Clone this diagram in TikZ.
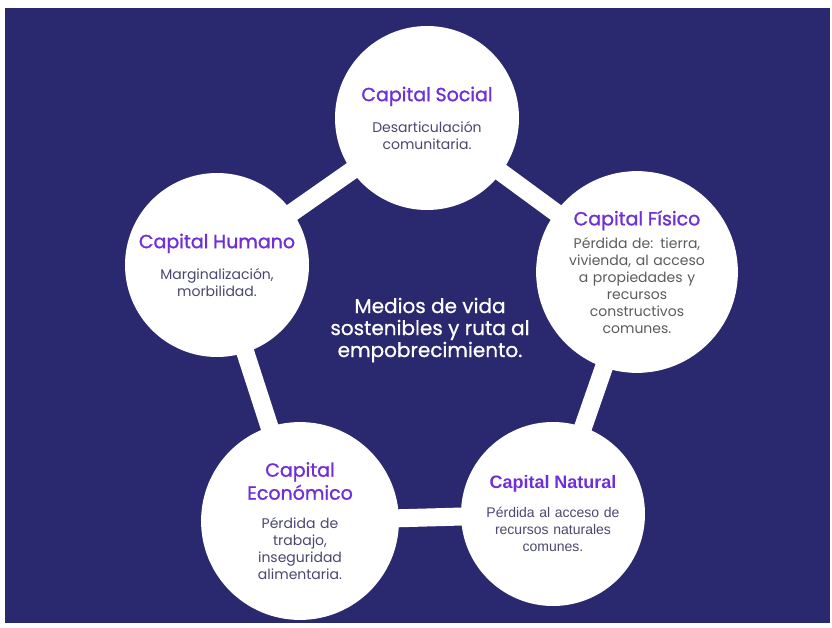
\documentclass[tikz,border=0pt]{standalone}
\usepackage{fontspec}
\setmainfont{Poppins}
\newfontfamily\arialfont{Liberation Sans}
\newfontfamily\titulofont[FakeBold=1.2]{Poppins}
\newfontfamily\centrofont[FakeBold=0.8]{Poppins}
\usetikzlibrary{positioning}

\definecolor{fondo}{HTML}{2A286E}
\definecolor{morado}{HTML}{6F2FD8}
\definecolor{textoazul}{HTML}{4A4870}
\definecolor{textogris}{HTML}{5C5C5C}

\begin{document}
\begin{tikzpicture}[
    x=1pt, y=-1pt,
    every path/.style={thick}
]
    \tikzset{
        capital/.style={circle, fill=white, minimum size=184pt, inner sep=0pt,
            outer sep=-3pt, text width=160pt, align=center, text=textoazul,
            font=\fontsize{14}{17}\selectfont},
        enlace/.style={draw=white, line width=18pt},
        centro/.style={text=white, align=center,
            font=\centrofont\fontsize{20}{22}\selectfont}
    }

    % Fondo
    \fill[white] (0,0) rectangle (832,628);
    \fill[fondo] (5,8) rectangle (830,623);

    % Capitales
    \node[capital] (social) at (427,118) {%
        {\titulofont\color{morado}\fontsize{19}{22}\selectfont Capital Social\par}\vspace{14pt}
        Desarticulación\\comunitaria.};
    \node[capital] (fisico) at (637,272) {%
        {\titulofont\color{morado}\fontsize{19}{22}\selectfont Capital Físico\par}\vspace{6pt}
        {\color{textogris}Pérdida de: tierra,\\vivienda, al acceso\\a propiedades y\\recursos\\constructivos\\comunes.\par}};
    \node[capital] (natural) at (553,514) {%
        {\arialfont\bfseries\color{morado}\fontsize{18}{22}\selectfont Capital Natural\par}\vspace{12pt}
        {\arialfont Pérdida al acceso de\\recursos naturales\\comunes.\par}};
    \node[capital] (economico) at (300,521) {%
        {\titulofont\color{morado}\fontsize{19}{23}\selectfont Capital\\Económico\par}\vspace{12pt}
        Pérdida de\\trabajo,\\inseguridad\\alimentaria.};
    \node[capital] (humano) at (217,265) {%
        {\titulofont\color{morado}\fontsize{19}{22}\selectfont Capital Humano\par}\vspace{14pt}
        Marginalización,\\morbilidad.};

    % Texto central
    \node[centro] (medios) at (430,330)
        {Medios de vida\\sostenibles y ruta al\\empobrecimiento.};

    % Enlaces
    \draw[enlace] (social) -- (fisico);
    \draw[enlace] (fisico) -- (natural);
    \draw[enlace] (natural) -- (economico);
    \draw[enlace] (economico) -- (humano);
    \draw[enlace] (humano) -- (social);
\end{tikzpicture}
\end{document}
